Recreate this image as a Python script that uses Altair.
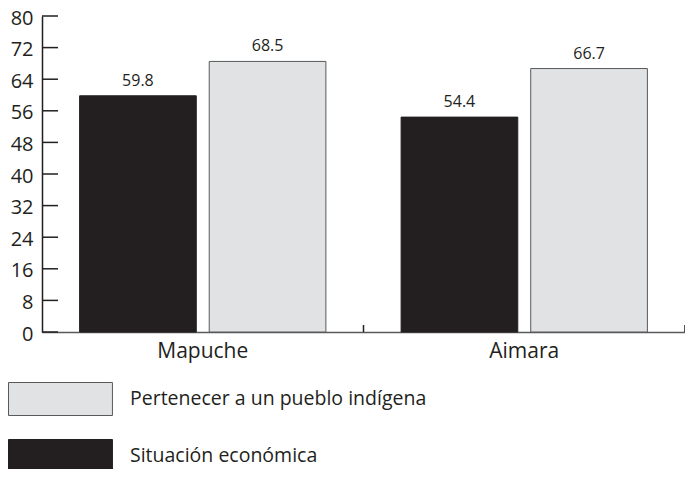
import altair as alt
import pandas as pd

groups = ["Mapuche", "Aimara"]
serie_econ = "Situación económica"
serie_indig = "Pertenecer a un pueblo indígena"
values_econ = [59.8, 54.4]
values_indig = [68.5, 66.7]
y_ticks = [0, 8, 16, 24, 32, 40, 48, 56, 64, 72, 80]

rows = []
for g, a, b in zip(groups, values_econ, values_indig):
    rows.append({"grupo": g, "serie": serie_econ, "valor": a})
    rows.append({"grupo": g, "serie": serie_indig, "valor": b})
df = pd.DataFrame(rows)
ticks_df = pd.DataFrame({"t": y_ticks})
groups_df = pd.DataFrame({"grupo": groups})

W, H = 643, 316
DARK = "#231f20"
LIGHT = "#e1e2e4"
EDGE = "#58595b"

x_axis = alt.Axis(title=None, labelAngle=0, ticks=False, domainColor=EDGE,
                  domainWidth=1.5, labelFontSize=21, labelPadding=8,
                  labelColor=DARK)
y_axis = alt.Axis(values=y_ticks, ticks=False, grid=False, domainColor=DARK,
                  domainWidth=1.5, labelFontSize=20, labelPadding=9,
                  labelOverlap=False, labelOffset=2,
                  labelColor=DARK, title=None)
x_scale = alt.Scale(paddingInner=0, paddingOuter=0)
y_scale = alt.Scale(domain=[0, 80], nice=False)

x_enc = alt.X("grupo:N", sort=groups, scale=x_scale, axis=x_axis)
xoff = alt.XOffset("serie:N", sort=[serie_econ, serie_indig],
                   scale=alt.Scale(paddingInner=0.1, paddingOuter=0.29))
y_enc = alt.Y("valor:Q", scale=y_scale, axis=y_axis)

base = alt.Chart(df)

bars = base.mark_bar(strokeWidth=1).encode(
    x=x_enc,
    xOffset=xoff,
    y=y_enc,
    fill=alt.Fill(
        "serie:N",
        scale=alt.Scale(domain=[serie_indig, serie_econ], range=[LIGHT, DARK]),
        legend=alt.Legend(
            orient="none", legendX=-34, legendY=366, title=None,
            direction="vertical",
            symbolType="M-1,-1H5.3V1H-1Z", symbolSize=1089,
            symbolStrokeColor=EDGE, symbolStrokeWidth=1,
            labelFontSize=19.5, labelOffset=88, rowPadding=19,
            labelLimit=0, labelColor=DARK, padding=0,
        ),
    ),
    stroke=alt.Stroke(
        "serie:N",
        scale=alt.Scale(domain=[serie_indig, serie_econ], range=[EDGE, DARK]),
        legend=None,
    ),
)

labels = base.mark_text(baseline="alphabetic", dy=-10, fontSize=16, color=DARK).encode(
    x=x_enc,
    xOffset=xoff,
    y=y_enc,
    text=alt.Text("valor:Q", format=".1f"),
)

yticks = alt.Chart(ticks_df).mark_rule(color=DARK, strokeWidth=1.5).encode(
    y=alt.Y("t:Q", scale=y_scale, axis=y_axis),
    x=alt.value(0),
    x2=alt.value(16),
)

xticks = alt.Chart(groups_df).mark_rule(color=DARK, strokeWidth=1.5).encode(
    x=alt.X("grupo:N", sort=groups, bandPosition=1, scale=x_scale, axis=x_axis),
    y=alt.value(H),
    y2=alt.value(H - 7),
)

chart = alt.layer(bars, labels, yticks, xticks).properties(
    width=W, height=H,
    autosize="none",
    padding={"left": 34, "top": 8, "right": 0, "bottom": 137},
).configure(font="Open Sans").configure_view(stroke=None)

chart.save("out.html", embed_options={"renderer": "svg", "actions": False})
